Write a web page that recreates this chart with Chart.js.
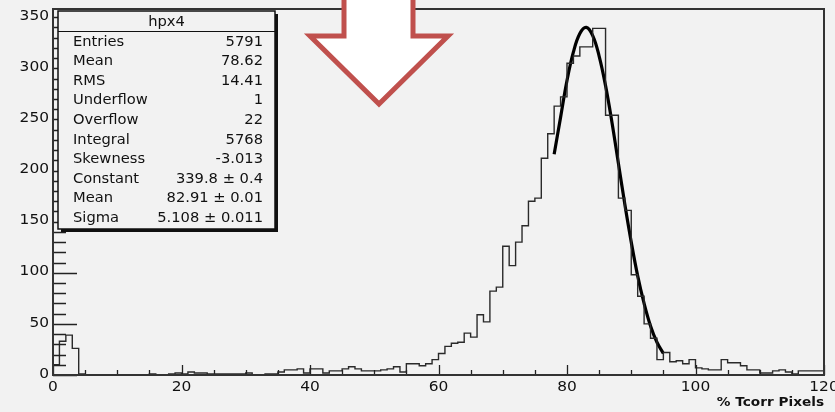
<!DOCTYPE html>
<html>
<head>
<meta charset="utf-8">
<script src="https://cdn.jsdelivr.net/npm/chart.js@4/dist/chart.umd.min.js"></script>
<style>
    html, body { margin: 0; padding: 0; background: #f2f2f2; }
    canvas { display: block; }
</style>
</head>
<body>
<canvas id="histo" width="835" height="412"></canvas>
<script>
const histTitle = 'hpx4';
const axisTitle = '% Tcorr Pixels';
const binLow = 0;
const binWidth = 1;
// one count per bin, 120 bins from 0 to 120
const binCounts = [
    10, 33, 39, 26, 1, 0, 0, 0, 0, 0,
    0, 0, 0, 0, 0, 1, 0, 0, 1, 2,
    1, 3, 2, 2, 1, 1, 1, 1, 1, 1,
    2, 0, 0, 1, 1, 3, 5, 5, 6, 2,
    6, 6, 2, 4, 4, 6, 8, 6, 4, 4,
    4, 5, 6, 8, 3, 11, 11, 9, 11, 15,
    21, 28, 31, 32, 41, 37, 59, 52, 82, 86,
    126, 107, 130, 146, 170, 173, 212, 236, 263, 272,
    305, 312, 321, 321, 339, 339, 254, 254, 173, 161,
    98, 77, 50, 36, 15, 22, 13, 14, 11, 15,
    7, 6, 5, 5, 15, 12, 12, 9, 5, 5,
    2, 2, 4, 5, 3, 1, 4, 4, 4, 4
];
// gaussian fit curve
const fitX = [78, 79, 80, 81, 82, 83, 84, 85, 86, 87, 88, 89, 90, 91, 92, 93, 94, 95];
const fitY = [216, 252, 288, 316, 334, 340, 332, 312, 283, 247, 207, 167, 130, 97, 70, 48, 32, 21];
const xTickLabels = [0, 20, 40, 60, 80, 100, 120];
const yTickLabels = [0, 50, 100, 150, 200, 250, 300, 350];
const statNames = ['Entries', 'Mean', 'RMS', 'Underflow', 'Overflow', 'Integral', 'Skewness', 'Constant', 'Mean', 'Sigma'];
const statValues = ['5791', '78.62', '14.41', '1', '22', '5768', '-3.013', '339.8 \u00b1 0.4', '82.91 \u00b1 0.01', '5.108 \u00b1 0.011'];

function drawText(ctx, str, x, y, align, font, stretch) {
    ctx.save();
    ctx.font = font;
    ctx.textAlign = align;
    ctx.textBaseline = 'middle';
    ctx.fillStyle = '#111';
    ctx.translate(x, y);
    ctx.scale(stretch, 1);
    ctx.fillText(str, 0, 0);
    ctx.restore();
}

const rootStyle = {
    id: 'rootStyle',
    beforeDraw(chart) {
        const ctx = chart.ctx;
        ctx.save();
        ctx.fillStyle = '#f2f2f2';
        ctx.fillRect(0, 0, chart.width, chart.height);
        ctx.restore();
    },
    afterDatasetsDraw(chart) {
        const ctx = chart.ctx;
        const area = chart.chartArea;
        const xs = chart.scales.x;
        const ys = chart.scales.y;
        const tickFont = '14px "DejaVu Sans"';

        ctx.save();
        ctx.strokeStyle = '#222';
        ctx.lineWidth = 1.3;
        ctx.beginPath();
        for (let v = 0; v <= 120; v += 5) {
            const px = Math.round(xs.getPixelForValue(v)) + 0.5;
            const len = v % 20 === 0 ? 10 : 5;
            ctx.moveTo(px, area.bottom);
            ctx.lineTo(px, area.bottom - len);
        }
        for (let v = 0; v <= 350; v += 10) {
            const py = Math.round(ys.getPixelForValue(v)) + 0.5;
            const len = v % 50 === 0 ? 24 : 13;
            ctx.moveTo(area.left, py);
            ctx.lineTo(area.left + len, py);
        }
        ctx.stroke();

        // frame
        ctx.strokeStyle = '#333';
        ctx.lineWidth = 2;
        ctx.strokeRect(area.left, area.top, area.right - area.left, area.bottom - area.top);
        ctx.restore();

        xTickLabels.forEach((v) => {
            drawText(ctx, String(v), xs.getPixelForValue(v), area.bottom + 12, 'center', tickFont, 1.1);
        });
        yTickLabels.forEach((v) => {
            drawText(ctx, String(v), area.left - 4, ys.getPixelForValue(v) - 1, 'right', tickFont, 1.1);
        });
        drawText(ctx, axisTitle, area.right, area.bottom + 28, 'right', 'bold 13px "DejaVu Sans"', 1.05);

        // stats box
        const bx = 58, by = 11, bw = 217, bh = 218;
        ctx.save();
        ctx.fillStyle = '#111';
        ctx.fillRect(bx + 3, by + 3, bw, bh);
        ctx.fillStyle = '#f2f2f2';
        ctx.fillRect(bx, by, bw, bh);
        ctx.strokeStyle = '#111';
        ctx.lineWidth = 1.5;
        ctx.strokeRect(bx, by, bw, bh);
        ctx.lineWidth = 1.2;
        ctx.beginPath();
        ctx.moveTo(bx, by + 20.5);
        ctx.lineTo(bx + bw, by + 20.5);
        ctx.stroke();
        ctx.restore();
        const boxFont = '14px "DejaVu Sans"';
        drawText(ctx, histTitle, bx + bw / 2, by + 11, 'center', boxFont, 1.05);
        statNames.forEach((name, i) => {
            const y = by + 31 + i * 19.6;
            drawText(ctx, name, bx + 15, y, 'left', boxFont, 1.05);
            drawText(ctx, statValues[i], bx + bw - 12, y, 'right', boxFont, 1.05);
        });

        // arrow
        ctx.save();
        ctx.beginPath();
        ctx.moveTo(344, -10);
        ctx.lineTo(344, 36);
        ctx.lineTo(310, 36);
        ctx.lineTo(379, 104);
        ctx.lineTo(448, 36);
        ctx.lineTo(413, 36);
        ctx.lineTo(413, -10);
        ctx.closePath();
        ctx.fillStyle = '#ffffff';
        ctx.fill();
        ctx.lineWidth = 5;
        ctx.lineJoin = 'miter';
        ctx.strokeStyle = '#c0504d';
        ctx.stroke();
        ctx.restore();
    }
};

const histPoints = [{ x: binLow, y: 0 }];
binCounts.forEach((count, i) => {
    histPoints.push({ x: binLow + i * binWidth, y: count });
});
const binHigh = binLow + binCounts.length * binWidth;
histPoints.push({ x: binHigh, y: binCounts[binCounts.length - 1] });
histPoints.push({ x: binHigh, y: 0 });

new Chart(document.getElementById('histo').getContext('2d'), {
    type: 'line',
    data: {
        datasets: [
            {
                label: histTitle,
                data: histPoints,
                stepped: true,
                borderColor: '#2a2a2a',
                borderWidth: 1.4,
                pointRadius: 0,
                fill: false,
            },
            {
                label: 'fit',
                data: fitX.map((x, i) => ({ x, y: fitY[i] })),
                borderColor: '#000',
                borderWidth: 3.2,
                tension: 0.4,
                pointRadius: 0,
                fill: false,
            },
        ],
    },
    options: {
        responsive: false,
        animation: false,
        devicePixelRatio: 1,
        layout: { padding: { left: 53, right: 11, top: 9, bottom: 37 } },
        scales: {
            x: { type: 'linear', min: 0, max: 120, display: false },
            y: { type: 'linear', min: 0, max: 358, display: false },
        },
        plugins: {
            legend: { display: false },
            tooltip: { enabled: false },
        },
    },
    plugins: [rootStyle],
});
</script>
</body>
</html>
